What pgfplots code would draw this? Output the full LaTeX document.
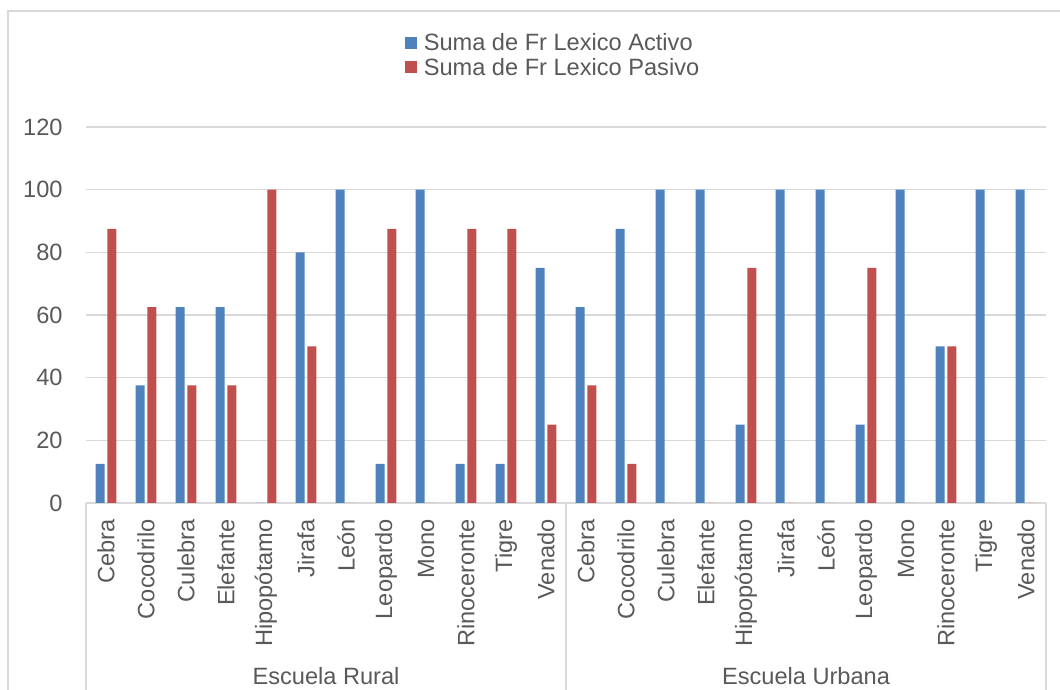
\documentclass[border=0pt]{standalone}
\usepackage{fontspec}
\setmainfont{Liberation Sans}
\usepackage{pgfplots}
\pgfplotsset{compat=1.18}

\definecolor{serA}{HTML}{4F81BD}
\definecolor{serP}{HTML}{C0504D}
\definecolor{txt}{HTML}{595959}
\definecolor{grd}{HTML}{D9D9D9}

\newcommand{\lbl}{\fontsize{11.8}{13.5}\selectfont}

\begin{document}
\begin{tikzpicture}[x=0.5pt,y=0.5pt]
% picture frame in image pixels, y counted up from the bottom
\path[use as bounding box, clip] (0,0) rectangle (1060,690);
% outer chart frame (cropped on right and bottom)
\draw[grd, line width=0.8pt] (8,679) rectangle (1080,-20);
\coordinate (O) at (86,187);

\begin{axis}[
    at={(O)}, anchor=south west,
    scale only axis,
    width=480pt, height=188pt,
    xmin=-0.5, xmax=23.5,
    ymin=0, ymax=120,
    ytick={0,20,...,120},
    xtick={0,...,23},
    xticklabels={Cebra,Cocodrilo,Culebra,Elefante,Hipopótamo,Jirafa,León,Leopardo,Mono,Rinoceronte,Tigre,Venado,
                 Cebra,Cocodrilo,Culebra,Elefante,Hipopótamo,Jirafa,León,Leopardo,Mono,Rinoceronte,Tigre,Venado},
    ybar=1.35pt, bar width=4.5pt,
    ymajorgrids, grid style={grd, line width=0.7pt},
    axis line style={draw=none},
    major tick length=0pt,
    tick label style={font=\lbl, text=txt},
    /pgf/number format/assume math mode=true,
    yticklabel style={anchor=east, inner sep=0pt, xshift=-11.5pt},
    xticklabel style={yshift=-8pt, rotate=90, anchor=east, inner sep=0pt},
    legend style={at={(0.487,1.19)}, anchor=center, draw=none, fill=none,
                  font=\lbl, text=txt, row sep=0pt,
                  nodes={inner sep=1.2pt},
                  /tikz/every odd column/.style={column sep=2pt}},
    legend cell align=left,
    legend image code/.code={\fill[#1] (0pt,-2.7pt) rectangle (6pt,3.3pt);},
    clip=false,
]
\addplot[fill=serA, draw=none] coordinates {
    (0,12.5) (1,37.5) (2,62.5) (3,62.5) (4,0) (5,80) (6,100) (7,12.5) (8,100) (9,12.5) (10,12.5) (11,75)
    (12,62.5) (13,87.5) (14,100) (15,100) (16,25) (17,100) (18,100) (19,25) (20,100) (21,50) (22,100) (23,100)
};
\addplot[fill=serP, draw=none] coordinates {
    (0,87.5) (1,62.5) (2,37.5) (3,37.5) (4,100) (5,50) (6,0) (7,87.5) (8,0) (9,87.5) (10,87.5) (11,25)
    (12,37.5) (13,12.5) (14,0) (15,0) (16,75) (17,0) (18,0) (19,75) (20,0) (21,50) (22,0) (23,0)
};
\legend{Suma de Fr Lexico Activo, Suma de Fr Lexico Pasivo}
\end{axis}

% multi-level category axis frame
\draw[grd, line width=0.8pt] (86,187) -- (86,-10);
\draw[grd, line width=0.8pt] (566,187) -- (566,-10);
\draw[grd, line width=0.8pt] (1046,187) -- (1046,-10);
\node[anchor=base, text=txt, font=\lbl, inner sep=0pt] at (326,5) {Escuela Rural};
\node[anchor=base, text=txt, font=\lbl, inner sep=0pt] at (806,5) {Escuela Urbana};
\end{tikzpicture}
\end{document}
